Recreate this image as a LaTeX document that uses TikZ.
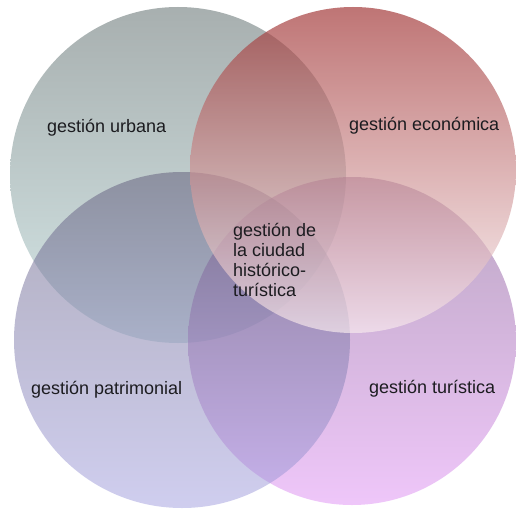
\documentclass[tikz,border=0pt]{standalone}
\usepackage{fontspec}
\setmainfont{Liberation Sans}
\definecolor{tlTop}{RGB}{82,97,97}
\definecolor{tlBot}{RGB}{171,207,207}
\definecolor{trTop}{RGB}{158,46,46}
\definecolor{trMid}{RGB}{196,133,133}
\definecolor{trBot}{RGB}{250,237,240}
\definecolor{blTop}{RGB}{94,89,120}
\definecolor{blBot}{RGB}{161,158,224}
\definecolor{brTop}{RGB}{120,79,135}
\definecolor{brBot}{RGB}{224,143,245}
\definecolor{txt}{RGB}{28,28,32}
\tikzset{
  venn/.style={opacity=0.5},
  venntop/.style={opacity=0.66},
  lbl/.style={anchor=base west, inner sep=0pt, text=txt, font=\fontsize{18}{20}\selectfont},
}
\begin{document}
\begin{tikzpicture}[x=1pt,y=-1pt]
\useasboundingbox (0,0) rectangle (516,508);
\fill[white] (0,0) rectangle (516,508);
\shade[venn, top color=tlTop, bottom color=tlBot] (178,175) circle[radius=168pt];
\shade[venn, top color=brTop, bottom color=brBot] (352,341) circle[radius=164pt];
\shade[venn, top color=blTop, bottom color=blBot] (182,340) circle[radius=168pt];
\shade[venntop, top color=trTop, middle color=trMid, bottom color=trBot] (353,170) circle[radius=163pt];
\node[lbl] (urb) at (47,132) {gestión urbana};
\node[lbl] (eco) at (349,130) {gestión económica};
\node[lbl] (pat) at (31,394) {gestión patrimonial};
\node[lbl] (tur) at (369,393) {gestión turística};
\node[lbl] (c1) at (233,236) {gestión de};
\node[lbl] (c2) at (233,256) {la ciudad};
\node[lbl] (c3) at (233,276) {histórico-};
\node[lbl] (c4) at (233,296) {turística};
\end{tikzpicture}
\end{document}
